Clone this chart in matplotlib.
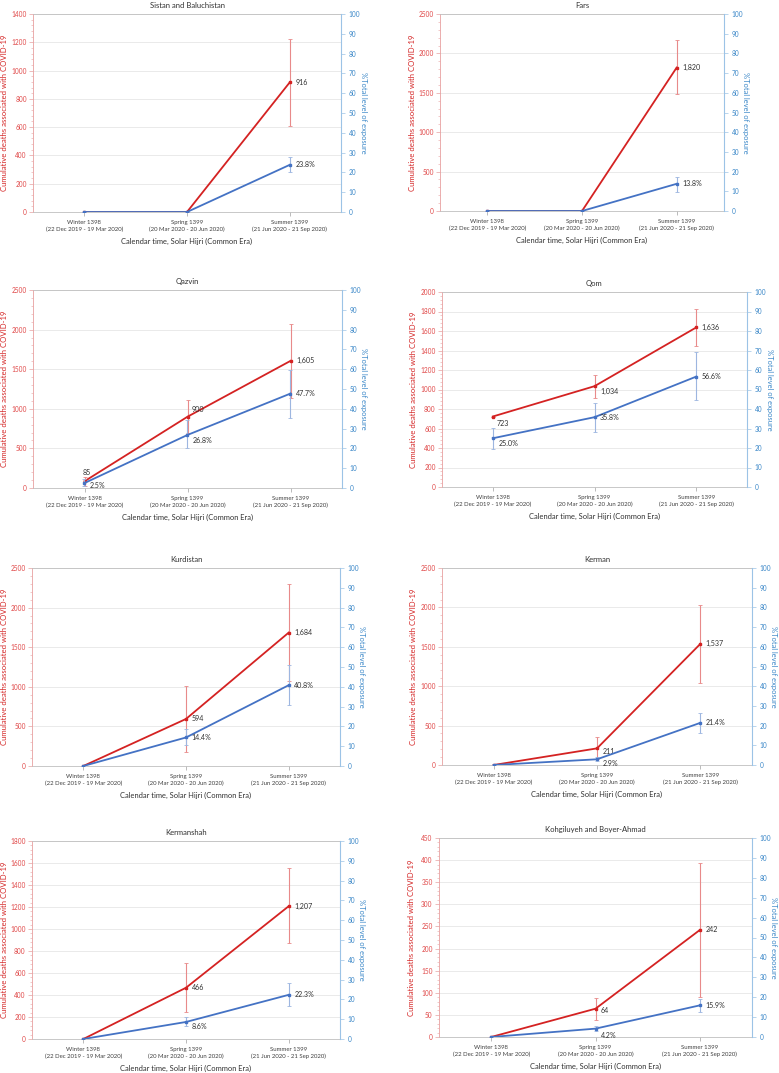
import numpy as np
import matplotlib
matplotlib.use("Agg")
from matplotlib import pyplot as plt
from matplotlib.ticker import MultipleLocator, AutoMinorLocator

plt.rcParams['font.family'] = ['Lato', 'DejaVu Sans']

nan = np.nan

seasons = ['Winter 1398\n(22 Dec 2019 - 19 Mar 2020)',
           'Spring 1399\n(20 Mar 2020 - 20 Jun 2020)',
           'Summer 1399\n(21 Jun 2020 - 21 Sep 2020)']

provinces = ['Sistan and Baluchistan', 'Fars', 'Qazvin', 'Qom',
             'Kurdistan', 'Kerman', 'Kermanshah', 'Kohgiluyeh and Boyer-Ahmad']

# cumulative deaths with lower / upper bounds
deaths = [[0, 0, 916], [0, 0, 1820], [85, 900, 1605], [723, 1034, 1636],
          [0, 594, 1684], [0, 211, 1537], [0, 466, 1207], [0, 64, 242]]
deaths_lo = [[nan, nan, 605], [nan, nan, 1480], [30, 695, 1140], [nan, 915, 1444],
             [nan, 181, 1075], [nan, 75, 1044], [nan, 242, 871], [nan, 39, 90]]
deaths_hi = [[nan, nan, 1222], [nan, nan, 2165], [140, 1107, 2070], [nan, 1147, 1829],
             [nan, 1010, 2294], [nan, 351, 2030], [nan, 690, 1552], [nan, 89, 394]]

# % total level of exposure with lower / upper bounds
exposure = [[0, 0, 23.8], [0, 0, 13.8], [2.5, 26.8, 47.7], [25.0, 35.8, 56.6],
            [0, 14.4, 40.8], [0, 2.9, 21.4], [0, 8.6, 22.3], [0, 4.2, 15.9]]
exposure_lo = [[nan, nan, 20.0], [nan, nan, 9.8], [0.8, 20.0, 35.5], [19.3, 28.0, 44.5],
               [nan, 10.8, 30.8], [nan, 2.0, 16.4], [nan, 6.4, 16.5], [nan, 3.0, 12.6]]
exposure_hi = [[nan, nan, 27.6], [nan, nan, 17.3], [4.5, 34.3, 59.6], [30.5, 43.3, 69.1],
               [nan, 18.5, 51.0], [nan, 3.9, 26.2], [nan, 11.1, 28.2], [nan, 5.6, 19.3]]

ymax = [1400, 2500, 2500, 2000, 2500, 2500, 1800, 450]
ystep = [200, 500, 500, 200, 500, 500, 200, 50]

# axes boxes in pixels: left, right, top, bottom
boxes = [(33, 341, 14, 212), (440, 724, 14, 211),
         (33, 342, 290, 488), (442, 747, 292, 487),
         (32, 340, 568, 766), (442, 752, 568, 765),
         (32, 340, 841, 1039), (439, 752, 838, 1037)]
# centre x (pixels) of the left axis title
left_title_x = [5, 413, 5, 413, 5, 413, 5, 412]

# label offsets (points) that differ from the default
offsets = {(2, 'd', 0): (-1, 6), (2, 'e', 0): (4, -2), (2, 'd', 1): (3, 5), (2, 'e', 1): (4, -4),
           (3, 'd', 0): (3, -5), (3, 'd', 1): (4, -4), (3, 'e', 0): (4, -4),
           (5, 'd', 1): (4, -2), (5, 'e', 1): (4, -3),
           (6, 'e', 1): (4, -3), (7, 'e', 1): (4, -5), (7, 'd', 1): (4, -1)}

RED = '#D42222'
RED_ERR = '#E88A8A'
RED_TXT = '#E04848'
BLUE = '#4472C4'
BLUE_ERR = '#9DB6E0'
BLUE_TXT = '#3A87C8'

W, H = 779, 1073
fig = plt.figure(figsize=(W / 100, H / 100), dpi=100)

x = np.arange(len(seasons))
for i, name in enumerate(provinces):
    l, r, t, b = boxes[i]
    ax = fig.add_axes([l / W, 1 - b / H, (r - l) / W, (b - t) / H])
    ax2 = ax.twinx()

    d = np.array(deaths[i], float)
    dlo = np.array(deaths_lo[i], float)
    dhi = np.array(deaths_hi[i], float)
    e = np.array(exposure[i], float)
    elo = np.array(exposure_lo[i], float)
    ehi = np.array(exposure_hi[i], float)

    ax.errorbar(x, d, yerr=[np.nan_to_num(d - dlo), np.nan_to_num(dhi - d)],
                fmt='none', ecolor=RED_ERR, elinewidth=0.8, capsize=1.5, capthick=0.6)
    ax.plot(x, d, color=RED, lw=1.3, marker='s', ms=1.8, zorder=3)
    ax2.errorbar(x, e, yerr=[np.nan_to_num(e - elo), np.nan_to_num(ehi - e)],
                 fmt='none', ecolor=BLUE_ERR, elinewidth=0.8, capsize=1.5, capthick=0.6)
    ax2.plot(x, e, color=BLUE, lw=1.3, marker='s', ms=1.8, zorder=3)

    for j in range(len(x)):
        if d[j] > 0:
            off = offsets.get((i, 'd', j), (4, 0))
            ax.annotate(f'{int(d[j]):,}', (x[j], d[j]), xytext=off, textcoords='offset points',
                        fontsize=5.1, color='#303030', va='center', ha='left')
        if e[j] > 0:
            off = offsets.get((i, 'e', j), (4, 0))
            ax2.annotate(f'{e[j]:.1f}%', (x[j], e[j]), xytext=off, textcoords='offset points',
                         fontsize=5.1, color='#303030', va='center', ha='left')

    ax.set_xlim(-0.5, 2.5)
    ax.set_ylim(0, ymax[i])
    ax.yaxis.set_major_locator(MultipleLocator(ystep[i]))
    ax.yaxis.set_minor_locator(AutoMinorLocator(5))
    ax2.set_ylim(0, 100)
    ax2.yaxis.set_major_locator(MultipleLocator(10))
    ax2.set_xlim(-0.5, 2.5)

    ax.set_xticks(x)
    ax.set_xticklabels(seasons, fontsize=4.3, color='#404040', linespacing=1.45)
    ax.tick_params(axis='x', length=3, width=0.5, color='#A0A0A0', pad=2.5)
    ax.tick_params(axis='y', which='major', labelsize=4.7, labelcolor=RED_TXT,
                   color='#E8A0A0', length=3, width=0.5, pad=1.5)
    ax.tick_params(axis='y', which='minor', color='#E8A0A0', length=1.5, width=0.4)
    ax2.tick_params(axis='y', labelsize=4.7, labelcolor=BLUE_TXT, color='#9CC3E6',
                    length=3, width=0.5, pad=2.5)

    ax.grid(axis='y', color='#E6E6E6', lw=0.6)
    ax.set_axisbelow(True)
    for side in ['top', 'bottom']:
        ax.spines[side].set_color('#BFBFBF')
        ax.spines[side].set_linewidth(0.6)
        ax2.spines[side].set_visible(False)
    ax.spines['left'].set_color('#E8A0A0')
    ax.spines['left'].set_linewidth(0.6)
    ax2.spines['left'].set_visible(False)
    ax.spines['right'].set_visible(False)
    ax2.spines['right'].set_color('#9CC3E6')
    ax2.spines['right'].set_linewidth(0.8)

    ax.set_title(name, fontsize=5.5, color='#303030', pad=4)
    ax.set_xlabel('Calendar time, Solar Hijri (Common Era)', fontsize=5.4, color='#303030', labelpad=4)
    ax.set_ylabel('Cumulative deaths associated with COVID-19', fontsize=5.6, color=RED, va='center')
    ax.yaxis.set_label_coords((left_title_x[i] - l) / (r - l), 0.5)
    ax2.set_ylabel('%Total level of exposure', fontsize=5.4, color=BLUE_TXT, rotation=270, va='center')
    ax2.yaxis.set_label_coords(1 + 22 / (r - l), 0.5)

fig.savefig('out.png', dpi=100)
